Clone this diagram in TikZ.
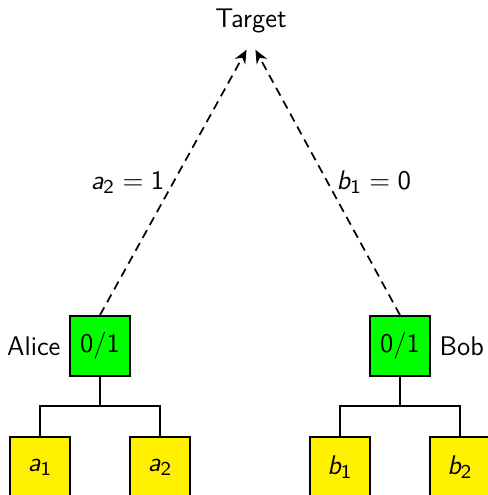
\documentclass[tikz,border=0pt]{standalone}
\usetikzlibrary{arrows.meta}
\definecolor{boxgreen}{RGB}{0,255,0}
\definecolor{boxyellow}{RGB}{255,240,0}
\tikzset{
  pic px/.style={x=0.408pt,y=-0.408pt},
  txt/.style={font=\sffamily\fontsize{11}{13}\selectfont},
  playerbox/.style={txt,draw=black,line width=0.7pt,fill=boxgreen,minimum size=24.5pt,inner sep=0pt},
  leafbox/.style={txt,draw=black,line width=0.7pt,fill=boxyellow,minimum size=24.5pt,inner sep=0pt},
  treeline/.style={line width=0.7pt},
  msg/.style={dash pattern=on 3.6pt off 2.4pt,line width=0.7pt,-{Stealth[length=5.5pt,width=4.8pt,inset=1.8pt]}},
  lbl/.style={txt}
}
\newcommand{\sv}[1]{\textsf{\itshape #1}}
\begin{document}
\begin{tikzpicture}[pic px]
\useasboundingbox (0,0) rectangle (488,495);
\node[lbl,anchor=base] (target) at (251,27) {Target};
\node[playerbox,label={[lbl]left:Alice}] (alice) at (100,346) {0/1};
\node[playerbox,label={[lbl]right:Bob}] (bob) at (400,346) {0/1};
\node[leafbox,anchor=north] (a1) at (40,436) {$\sv{a}_{\mathsf{1}}$};
\node[leafbox,anchor=north] (a2) at (160,436) {$\sv{a}_{\mathsf{2}}$};
\node[leafbox,anchor=north] (b1) at (340,436) {$\sv{b}_{\mathsf{1}}$};
\node[leafbox,anchor=north] (b2) at (460,436) {$\sv{b}_{\mathsf{2}}$};
\coordinate (aj) at (100,406);
\coordinate (bj) at (400,406);
\draw[treeline] (alice.south) -- (aj);
\draw[treeline] (aj) -| (a1.north);
\draw[treeline] (aj) -| (a2.north);
\draw[treeline] (bob.south) -- (bj);
\draw[treeline] (bj) -| (b1.north);
\draw[treeline] (bj) -| (b2.north);
\draw[msg] (alice.north) -- node[lbl,midway,left] {$\sv{a}_{\mathsf{2}} = \mathsf{1}$} ([xshift=-1.8pt,yshift=-3.5pt]target.south);
\draw[msg] (bob.north) -- node[lbl,midway,right] {$\sv{b}_{\mathsf{1}} = \mathsf{0}$} ([xshift=1.8pt,yshift=-3.5pt]target.south);
\end{tikzpicture}
\end{document}
